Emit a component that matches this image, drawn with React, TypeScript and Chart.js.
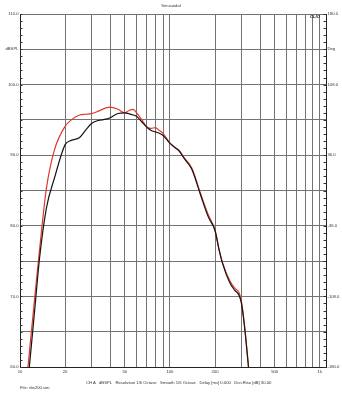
import React, { useEffect, useRef } from "react";
import { Chart, registerables } from "chart.js";
Chart.register(...registerables);

// Frequencies (Hz) shared by both curves
const freqHz = [11.3, 12.6, 13.5, 15, 17, 20, 22, 25, 27.5, 30, 33, 37.5, 40, 45, 50, 53, 57, 60, 65, 70, 75, 80, 85, 90, 100, 108, 115, 125, 140, 160, 180, 200, 213, 225, 250, 270, 290, 300, 315, 335];
// Red curve (dBSPL)
const redDb = [60, 70.3, 76.6, 85.3, 90.8, 94.1, 95.0, 95.7, 95.8, 95.9, 96.2, 96.7, 96.8, 96.5, 96.0, 96.3, 96.5, 96.0, 95.0, 94.0, 93.8, 93.9, 93.5, 93.1, 91.7, 91.1, 90.7, 89.6, 88.2, 84.6, 81.6, 79.4, 76.6, 74.7, 72.3, 71.2, 70.5, 69.3, 65.8, 60];
// Black curve (dBSPL)
const blackDb = [57.9, 68.6, 75.4, 82.5, 86.8, 91.5, 92.1, 92.5, 93.6, 94.5, 94.9, 95.1, 95.3, 95.9, 96.0, 95.9, 95.7, 95.5, 94.7, 94.0, 93.5, 93.3, 93.1, 92.8, 91.7, 91.1, 90.6, 89.5, 88.0, 84.4, 81.3, 79.3, 76.6, 74.6, 72.0, 70.9, 70.1, 69.0, 65.6, 59.8];

// Axis ticks
const xGridHz = [10, 20, 30, 40, 50, 60, 70, 80, 90, 100, 200, 300, 400, 500, 600, 700, 800, 900, 1000, 1100];
const xLabels: Record<number, string> = { 10: "10", 20: "20", 50: "50", 100: "100", 200: "200", 500: "500", 1000: "1k" };
const leftLabels: Record<number, string> = { 110: "110.0", 105: "dBSPL", 100: "100.0", 90: "90.0", 80: "80.0", 70: "70.0", 60: "60.0" };
const rightLabels: Record<number, string> = { 180: "180.0", 144: "Deg", 108: "108.0", 36: "36.0", "-36": "-36.0", "-108": "-108.0", "-180": "-180.0" } as any;

const tickFont = { family: "Arial, 'Liberation Sans', sans-serif", size: 4.2 };
const gridColor = "#737373";

const minorTicks = {
  id: "minorTicks",
  afterDraw(chart: any) {
    const { ctx, chartArea } = chart;
    const y = chart.scales.y;
    ctx.save();
    ctx.strokeStyle = "#333";
    ctx.lineWidth = 1;
    for (let v = 60; v <= 110; v++) {
      const py = Math.round(y.getPixelForValue(v)) + 0.5;
      ctx.beginPath();
      ctx.moveTo(chartArea.left, py);
      ctx.lineTo(chartArea.left + 2.5, py);
      ctx.moveTo(chartArea.right, py);
      ctx.lineTo(chartArea.right - 2.5, py);
      ctx.stroke();
    }
    ctx.restore();
  },
};

export default function App() {
  const ref = useRef<HTMLCanvasElement>(null);
  useEffect(() => {
    if (!ref.current) return;
    const chart = new Chart(ref.current, {
      type: "line",
      data: {
        datasets: [
          {
            label: "black",
            data: freqHz.map((f, i) => ({ x: f, y: blackDb[i] })),
            borderColor: "#161616",
            borderWidth: 1.2,
            pointRadius: 0,
            cubicInterpolationMode: "monotone",
          },
          {
            label: "red",
            data: freqHz.map((f, i) => ({ x: f, y: redDb[i] })),
            borderColor: "#e2372a",
            borderWidth: 1.2,
            pointRadius: 0,
            cubicInterpolationMode: "monotone",
          },
        ],
      },
      options: {
        animation: false,
        responsive: true,
        maintainAspectRatio: false,
        layout: { padding: { top: 14, left: 0, right: 0, bottom: 0 } },
        plugins: { legend: { display: false }, tooltip: { enabled: false }, title: { display: false } },
        scales: {
          x: {
            type: "logarithmic",
            min: 10,
            max: 1100,
            afterBuildTicks: (s: any) => {
              s.ticks = xGridHz.map((v) => ({ value: v }));
            },
            afterFit: (s: any) => {
              s.height = 29;
            },
            ticks: {
              autoSkip: false,
              maxRotation: 0,
              padding: 2,
              color: "#333",
              font: tickFont,
              callback: (v: any) => xLabels[Number(v)] ?? "",
            },
            grid: { color: gridColor, lineWidth: 1, drawTicks: false },
            border: { color: "#222", width: 1 },
          },
          y: {
            position: "left",
            min: 60,
            max: 110,
            afterFit: (s: any) => {
              s.width = 20;
            },
            ticks: {
              stepSize: 5,
              padding: 1.5,
              color: "#333",
              font: tickFont,
              callback: (v: any) => leftLabels[Number(v)] ?? "",
            },
            grid: { color: gridColor, lineWidth: 1, drawTicks: false },
            border: { color: "#222", width: 1 },
          },
          yR: {
            position: "right",
            min: -180,
            max: 180,
            afterFit: (s: any) => {
              s.width = 16;
            },
            ticks: {
              stepSize: 36,
              padding: 1.5,
              color: "#333",
              font: tickFont,
              callback: (v: any) => rightLabels[Math.round(Number(v))] ?? "",
            },
            grid: { drawOnChartArea: false, drawTicks: false },
            border: { color: "#222", width: 1 },
          },
        },
      },
      plugins: [minorTicks],
    });
    return () => chart.destroy();
  }, []);

  const txt: React.CSSProperties = {
    position: "absolute",
    fontFamily: "Arial, 'Liberation Sans', sans-serif",
    fontSize: "4.2px",
    color: "#333",
    whiteSpace: "pre",
    lineHeight: 1,
  };

  return (
    <div style={{ position: "absolute", left: 0, top: 0, width: 342, height: 396, background: "#fff" }}>
      <canvas ref={ref} />
      <div style={{ ...txt, left: 0, width: 342, top: 4, textAlign: "center" }}>Sinusoidal</div>
      <div style={{ ...txt, left: 310, top: 15, fontWeight: "bold", fontStyle: "italic", color: "#222" }}>CLIO</div>
      <div style={{ ...txt, left: 86, top: 381 }}>{"CH A   dBSPL   Resolution 1/6 Octave   Smooth 1/6 Octave   Delay [ms] 0.000   Dist.Rise [dB] 30.00"}</div>
      <div style={{ ...txt, left: 20, top: 386 }}>File: rbx200.sim</div>
    </div>
  );
}
